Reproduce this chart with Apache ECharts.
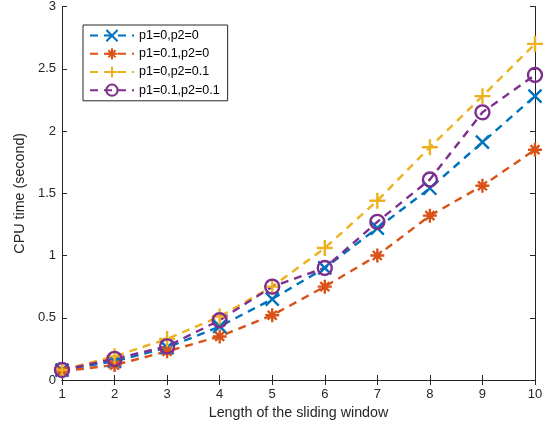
<!DOCTYPE html>
<html>
<head>
<meta charset="utf-8">
<script src="https://cdn.jsdelivr.net/npm/echarts@6/dist/echarts.min.js"></script>
<style>
html, body { margin: 0; padding: 0; background: #fff; }
#chart { width: 550px; height: 431px; }
</style>
</head>
<body>
<div id="chart"></div>
<script>
// window length 1..10
var windowLen = [1, 2, 3, 4, 5, 6, 7, 8, 9, 10];
var seriesNames = ['p1=0,p2=0', 'p1=0.1,p2=0', 'p1=0,p2=0.1', 'p1=0.1,p2=0.1'];
var cpuA = [0.08, 0.15, 0.26, 0.43, 0.65, 0.90, 1.22, 1.54, 1.91, 2.28];
var cpuB = [0.07, 0.12, 0.23, 0.35, 0.52, 0.75, 1.00, 1.32, 1.56, 1.85];
var cpuC = [0.08, 0.19, 0.33, 0.51, 0.75, 1.06, 1.44, 1.87, 2.28, 2.70];
var cpuD = [0.08, 0.17, 0.27, 0.48, 0.75, 0.90, 1.27, 1.61, 2.15, 2.45];
var yTicks = [0, 0.5, 1, 1.5, 2, 2.5, 3];

var colors = ['#0072BD', '#D95319', '#EDB120', '#7E2F8E'];
var marks = [
	'path://M0 0L10 10M10 0L0 10',
	'path://M5 0L5 10M0 5L10 5M1.8 1.8L8.2 8.2M8.2 1.8L1.8 8.2',
	'path://M5 0L5 10M0 5L10 5',
	'path://M5 0A5 5 0 1 1 4.99 0Z'
];
var sizes = [13, 14, 16, 14];
var allData = [cpuA, cpuB, cpuC, cpuD];

var font = 'Liberation Sans, Arial, sans-serif';
var axisCol = '#262626';

var chart = echarts.init(document.getElementById('chart'));

var series = allData.map(function(vals, i) {
	return {
		name: seriesNames[i],
		type: 'line',
		data: windowLen.map(function(x, j) { return [x, vals[j]]; }),
		symbol: marks[i],
		symbolSize: sizes[i],
		showAllSymbol: true,
		itemStyle: { color: 'rgba(0,0,0,0)', borderColor: colors[i], borderWidth: 2.4 },
		lineStyle: { color: colors[i], width: 2.4, type: [8, 6] },
		emphasis: { disabled: true },
		animation: false
	};
});

var option = {
	animation: false,
	grid: { left: 62, right: 15, top: 6, bottom: 51 },
	legend: {
		orient: 'vertical',
		left: 83, top: 25,
		itemWidth: 44, itemHeight: 14,
		itemGap: 5,
		padding: [4, 8, 4, 6],
		borderColor: axisCol, borderWidth: 1,
		textStyle: { fontFamily: font, fontSize: 12.5, color: '#000', padding: [0, 0, 0, 0] },
		data: seriesNames
	},
	xAxis: [{
		type: 'value', min: 1, max: 10, interval: 1,
		name: 'Length of the sliding window', nameLocation: 'middle', nameGap: 26,
		nameTextStyle: { fontFamily: font, fontSize: 14.3, color: axisCol },
		axisLine: { lineStyle: { color: axisCol, width: 1 } },
		axisTick: { inside: true, length: 5, lineStyle: { color: axisCol } },
		axisLabel: { fontFamily: font, fontSize: 13, color: axisCol, margin: 8 },
		splitLine: { show: false }
	}, {
		type: 'value', min: 1, max: 10, interval: 1, position: 'top',
		axisLine: { lineStyle: { color: axisCol, width: 1 } },
		axisTick: { inside: true, length: 5, lineStyle: { color: axisCol } },
		axisLabel: { show: false },
		splitLine: { show: false }
	}],
	yAxis: [{
		type: 'value', min: 0, max: 3, interval: 0.5,
		name: 'CPU time (second)', nameLocation: 'middle', nameGap: 34,
		nameTextStyle: { fontFamily: font, fontSize: 14.3, color: axisCol },
		axisLine: { show: true, lineStyle: { color: axisCol, width: 1 } },
		axisTick: { show: true, inside: true, length: 5, lineStyle: { color: axisCol } },
		axisLabel: { fontFamily: font, fontSize: 13, color: axisCol, margin: 6 },
		splitLine: { show: false }
	}, {
		type: 'value', min: 0, max: 3, interval: 0.5, position: 'right',
		axisLine: { show: true, lineStyle: { color: axisCol, width: 1 } },
		axisTick: { show: true, inside: true, length: 5, lineStyle: { color: axisCol } },
		axisLabel: { show: false },
		splitLine: { show: false }
	}],
	series: series
};

chart.setOption(option);
window.onresize = chart.resize;
</script>
</body>
</html>
